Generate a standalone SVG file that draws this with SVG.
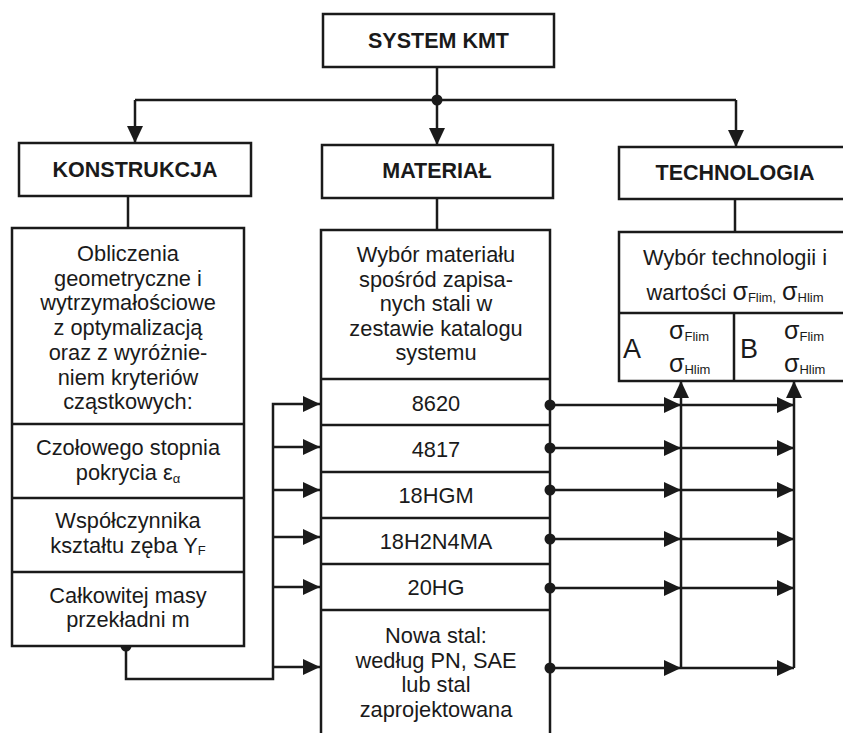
<svg xmlns="http://www.w3.org/2000/svg" width="843" height="733" viewBox="0 0 843 733">
<style>
.box{fill:#fff;stroke:#1a1a1a;stroke-width:2.5}
.ln{fill:none;stroke:#1a1a1a;stroke-width:2.5}
.arr{fill:none;stroke:#1a1a1a;stroke-width:2.5;marker-end:url(#ah)}
.dot{fill:#1a1a1a}
text{font-family:"Liberation Sans",Arial,sans-serif;fill:#1a1a1a;font-size:21.8px;text-anchor:middle}
.b{font-weight:bold;font-size:21.5px}
.sub{font-size:13px}
.sig{font-size:25px}
.big{font-size:27px;text-anchor:start}
.st{text-anchor:start}
</style>
<defs>
<marker id="ah" markerUnits="userSpaceOnUse" markerWidth="17" markerHeight="16" refX="17" refY="8" orient="auto" viewBox="0 0 17 16">
<path d="M0,0 L17,8 L0,16 z" fill="#1a1a1a"/>
</marker>
</defs>
<rect width="843" height="733" fill="#fff"/>

<g id="connectors">
<path class="ln" d="M437,67 V100"/>
<path class="ln" d="M135,100 H736"/>
<path class="arr" d="M135,100 V143"/>
<path class="arr" d="M437,100 V145"/>
<path class="arr" d="M736,100 V147"/>
<circle class="dot" cx="437" cy="100" r="5.5"/>
<path class="ln" d="M128,196 V228"/>
<path class="ln" d="M437,198 V230"/>
<path class="ln" d="M735,199 V232"/>
<path class="arr" d="M126,646 V679 H273 V404 H320"/>
<path class="arr" d="M273,447 H320"/>
<path class="arr" d="M273,490 H320"/>
<path class="arr" d="M273,537 H320"/>
<path class="arr" d="M273,587 H320"/>
<path class="arr" d="M273,667 H320"/>
<circle class="dot" cx="126" cy="646" r="5.5"/>
<path class="arr" d="M550,405 H681"/>
<path class="arr" d="M550,448 H681"/>
<path class="arr" d="M550,490 H681"/>
<path class="arr" d="M550,539 H681"/>
<path class="arr" d="M550,588 H681"/>
<path class="arr" d="M550,668 H681"/>
<path class="arr" d="M681,405 H794"/>
<path class="arr" d="M681,448 H794"/>
<path class="arr" d="M681,490 H794"/>
<path class="arr" d="M681,539 H794"/>
<path class="arr" d="M681,588 H794"/>
<path class="arr" d="M681,668 H794"/>
<path class="arr" d="M681,668 V381"/>
<path class="arr" d="M794,668 V381"/>
</g>

<g id="system">
<rect class="box" x="323" y="14" width="231" height="53"/>
<text class="b" x="438.5" y="48">SYSTEM KMT</text>
</g>

<g id="konstrukcja">
<rect class="box" x="19" y="143" width="232" height="53"/>
<text class="b" x="135" y="177">KONSTRUKCJA</text>
</g>

<g id="material">
<rect class="box" x="322" y="145" width="231" height="53"/>
<text class="b" x="437" y="178">MATERIAŁ</text>
</g>

<g id="technologia">
<rect class="box" x="619" y="147" width="240" height="52"/>
<text class="b" x="735" y="180">TECHNOLOGIA</text>
</g>

<g id="obliczenia">
<rect class="box" x="12" y="228" width="232" height="418"/>
<path class="ln" d="M12,424 H244 M12,498 H244 M12,572 H244"/>
<text x="128" y="261">Obliczenia</text>
<text x="128" y="286">geometryczne i</text>
<text x="128" y="310">wytrzymałościowe</text>
<text x="128" y="335">z optymalizacją</text>
<text x="128" y="360">oraz z wyróżnie-</text>
<text x="128" y="385">niem kryteriów</text>
<text x="128" y="409">cząstkowych:</text>
<text x="128" y="455">Czołowego stopnia</text>
<text x="128" y="480">pokrycia ε<tspan class="sub" dy="3">α</tspan></text>
<text x="128" y="528">Współczynnika</text>
<text x="128" y="553">kształtu zęba Y<tspan class="sub" dy="2">F</tspan></text>
<text x="128" y="603">Całkowitej masy</text>
<text x="128" y="627">przekładni m</text>
</g>

<g id="wybor-materialu">
<rect class="box" x="321" y="230" width="229" height="520"/>
<path class="ln" d="M321,379 H550 M321,425 H550 M321,472 H550 M321,518 H550 M321,564 H550 M321,610 H550"/>
<text x="436" y="262">Wybór materiału</text>
<text x="436" y="286.5">spośród zapisa-</text>
<text x="436" y="311">nych stali w</text>
<text x="436" y="335.5">zestawie katalogu</text>
<text x="436" y="360">systemu</text>
<text x="436" y="411">8620</text>
<text x="436" y="457">4817</text>
<text x="436" y="503">18HGM</text>
<text x="436" y="549">18H2N4MA</text>
<text x="436" y="595">20HG</text>
<text x="436" y="643">Nowa stal:</text>
<text x="436" y="667.5">według PN, SAE</text>
<text x="436" y="692">lub stal</text>
<text x="436" y="716.5">zaprojektowana</text>
<circle class="dot" cx="550" cy="405" r="5.5"/>
<circle class="dot" cx="550" cy="448" r="5.5"/>
<circle class="dot" cx="550" cy="490" r="5.5"/>
<circle class="dot" cx="550" cy="539" r="5.5"/>
<circle class="dot" cx="550" cy="588" r="5.5"/>
<circle class="dot" cx="550" cy="668" r="5.5"/>
</g>

<g id="wybor-technologii">
<rect class="box" x="619" y="232" width="240" height="149"/>
<path class="ln" d="M619,313 H859 M734,313 V381"/>
<text x="735" y="265">Wybór technologii i</text>
<text x="735" y="300">wartości <tspan class="sig">σ</tspan><tspan class="sub" dy="2">Flim,</tspan><tspan dy="-2"> </tspan><tspan class="sig">σ</tspan><tspan class="sub" dy="2">Hlim</tspan></text>
<text class="big" x="623" y="358">A</text>
<text class="st" x="669" y="339"><tspan class="sig">σ</tspan><tspan class="sub" dy="2">Flim</tspan></text>
<text class="st" x="669" y="372"><tspan class="sig">σ</tspan><tspan class="sub" dy="2">Hlim</tspan></text>
<text class="big" x="740" y="358">B</text>
<text class="st" x="784" y="339"><tspan class="sig">σ</tspan><tspan class="sub" dy="2">Flim</tspan></text>
<text class="st" x="784" y="372"><tspan class="sig">σ</tspan><tspan class="sub" dy="2">Hlim</tspan></text>
</g>
</svg>
